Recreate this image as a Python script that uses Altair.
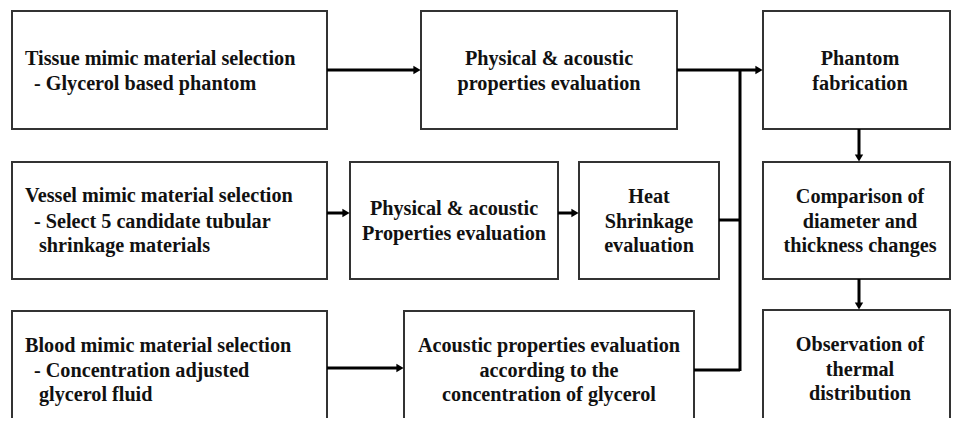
import altair as alt
import pandas as pd

# Boxes of the flowchart (image pixel coordinates)
box_names = ["tissue", "phys1", "phantom", "vessel", "phys2", "heat",
             "compare", "blood", "acoustic", "observe"]
box_x1 = [12, 421, 763, 12, 350, 579, 763, 12, 404, 763]
box_x2 = [327, 677, 950, 327, 558, 719, 950, 327, 694, 950]
box_y1 = [11, 11, 11, 162, 162, 162, 162, 311, 311, 310]
box_y2 = [129, 129, 129, 279, 279, 279, 279, 445, 445, 445]

# Text lines
line_text = [
    "Tissue mimic material selection", "- Glycerol based phantom",
    "Physical & acoustic", "properties evaluation",
    "Phantom", "fabrication",
    "Vessel mimic material selection", "- Select 5 candidate tubular", "shrinkage materials",
    "Physical & acoustic", "Properties evaluation",
    "Heat", "Shrinkage", "evaluation",
    "Comparison of", "diameter and", "thickness changes",
    "Blood mimic material selection", "- Concentration adjusted", "glycerol fluid",
    "Acoustic properties evaluation", "according to the", "concentration of glycerol",
    "Observation of", "thermal", "distribution",
]
line_x = [25, 34, 549, 549, 860, 860,
          25, 34, 39, 454, 454, 649, 649, 649, 860, 860, 860,
          25, 34, 39, 549, 549, 549, 860, 860, 860]
line_y = [65, 90, 65, 90, 65, 90,
          202, 228, 252, 215, 240, 203, 228, 252, 203, 228, 252,
          352, 377, 401, 352, 377, 401, 351, 376, 400]
line_align = ["left", "left", "center", "center", "center", "center",
              "left", "left", "left", "center", "center", "center", "center", "center",
              "center", "center", "center",
              "left", "left", "left", "center", "center", "center",
              "center", "center", "center"]

# Connector segments
seg_x1 = [327, 677, 740, 719, 694, 327, 558, 327, 859, 859]
seg_y1 = [70, 70, 70, 220, 370, 213, 213, 368, 129, 279]
seg_x2 = [414, 756, 740, 740, 740, 344, 573, 397, 859, 859]
seg_y2 = [70, 70, 371, 220, 370, 213, 213, 368, 156, 304]

# Arrowheads (center positions)
head_x = [417, 759, 346, 575, 400, 859, 859]
head_y = [70, 70, 213, 213, 368, 158, 306]
head_shape = ["triangle-right"] * 5 + ["triangle-down"] * 2

boxes = pd.DataFrame({"name": box_names, "x1": box_x1, "x2": box_x2,
                      "y1": box_y1, "y2": box_y2})
lines = pd.DataFrame({"text": line_text, "x": line_x, "y": line_y, "align": line_align})
segs = pd.DataFrame({"x1": seg_x1, "y1": seg_y1, "x2": seg_x2, "y2": seg_y2})
heads = pd.DataFrame({"x": head_x, "y": head_y, "shape": head_shape})

xs = alt.Scale(domain=[8, 951])
ys = alt.Scale(domain=[8, 418], reverse=True)
X = lambda f: alt.X(f, type="quantitative", scale=xs, axis=None)
Y = lambda f: alt.Y(f, type="quantitative", scale=ys, axis=None)

rects = alt.Chart(boxes).mark_rect(fill="white", stroke="#333333", strokeWidth=2, clip=False).encode(
    x=X("x1"), x2="x2", y=Y("y1"), y2="y2")

rules = alt.Chart(segs).mark_rule(color="black", strokeWidth=3, clip=False).encode(
    x=X("x1"), x2="x2", y=Y("y1"), y2="y2")

arrow_r = alt.Chart(heads[heads["shape"] == "triangle-right"]).mark_point(
    shape="triangle-right", filled=True, color="black", size=70, opacity=1).encode(
    x=X("x"), y=Y("y"))
arrow_d = alt.Chart(heads[heads["shape"] == "triangle-down"]).mark_point(
    shape="triangle-down", filled=True, color="black", size=70, opacity=1).encode(
    x=X("x"), y=Y("y"))

def text_layer(al):
    return alt.Chart(lines[lines["align"] == al]).mark_text(
        font="Liberation Serif", fontWeight="bold", fontSize=20.2, color="#111111",
        align=al, baseline="alphabetic").encode(
        x=X("x"), y=Y("y"), text="text:N")

chart = alt.layer(rects, rules, arrow_r, arrow_d, text_layer("left"), text_layer("center")).properties(
    width=943, height=410, padding=0, autosize=alt.AutoSizeParams(type="none"),
    background="white"
).configure_view(stroke=None)

chart.save("out.html", embed_options={"renderer": "svg", "actions": False})
